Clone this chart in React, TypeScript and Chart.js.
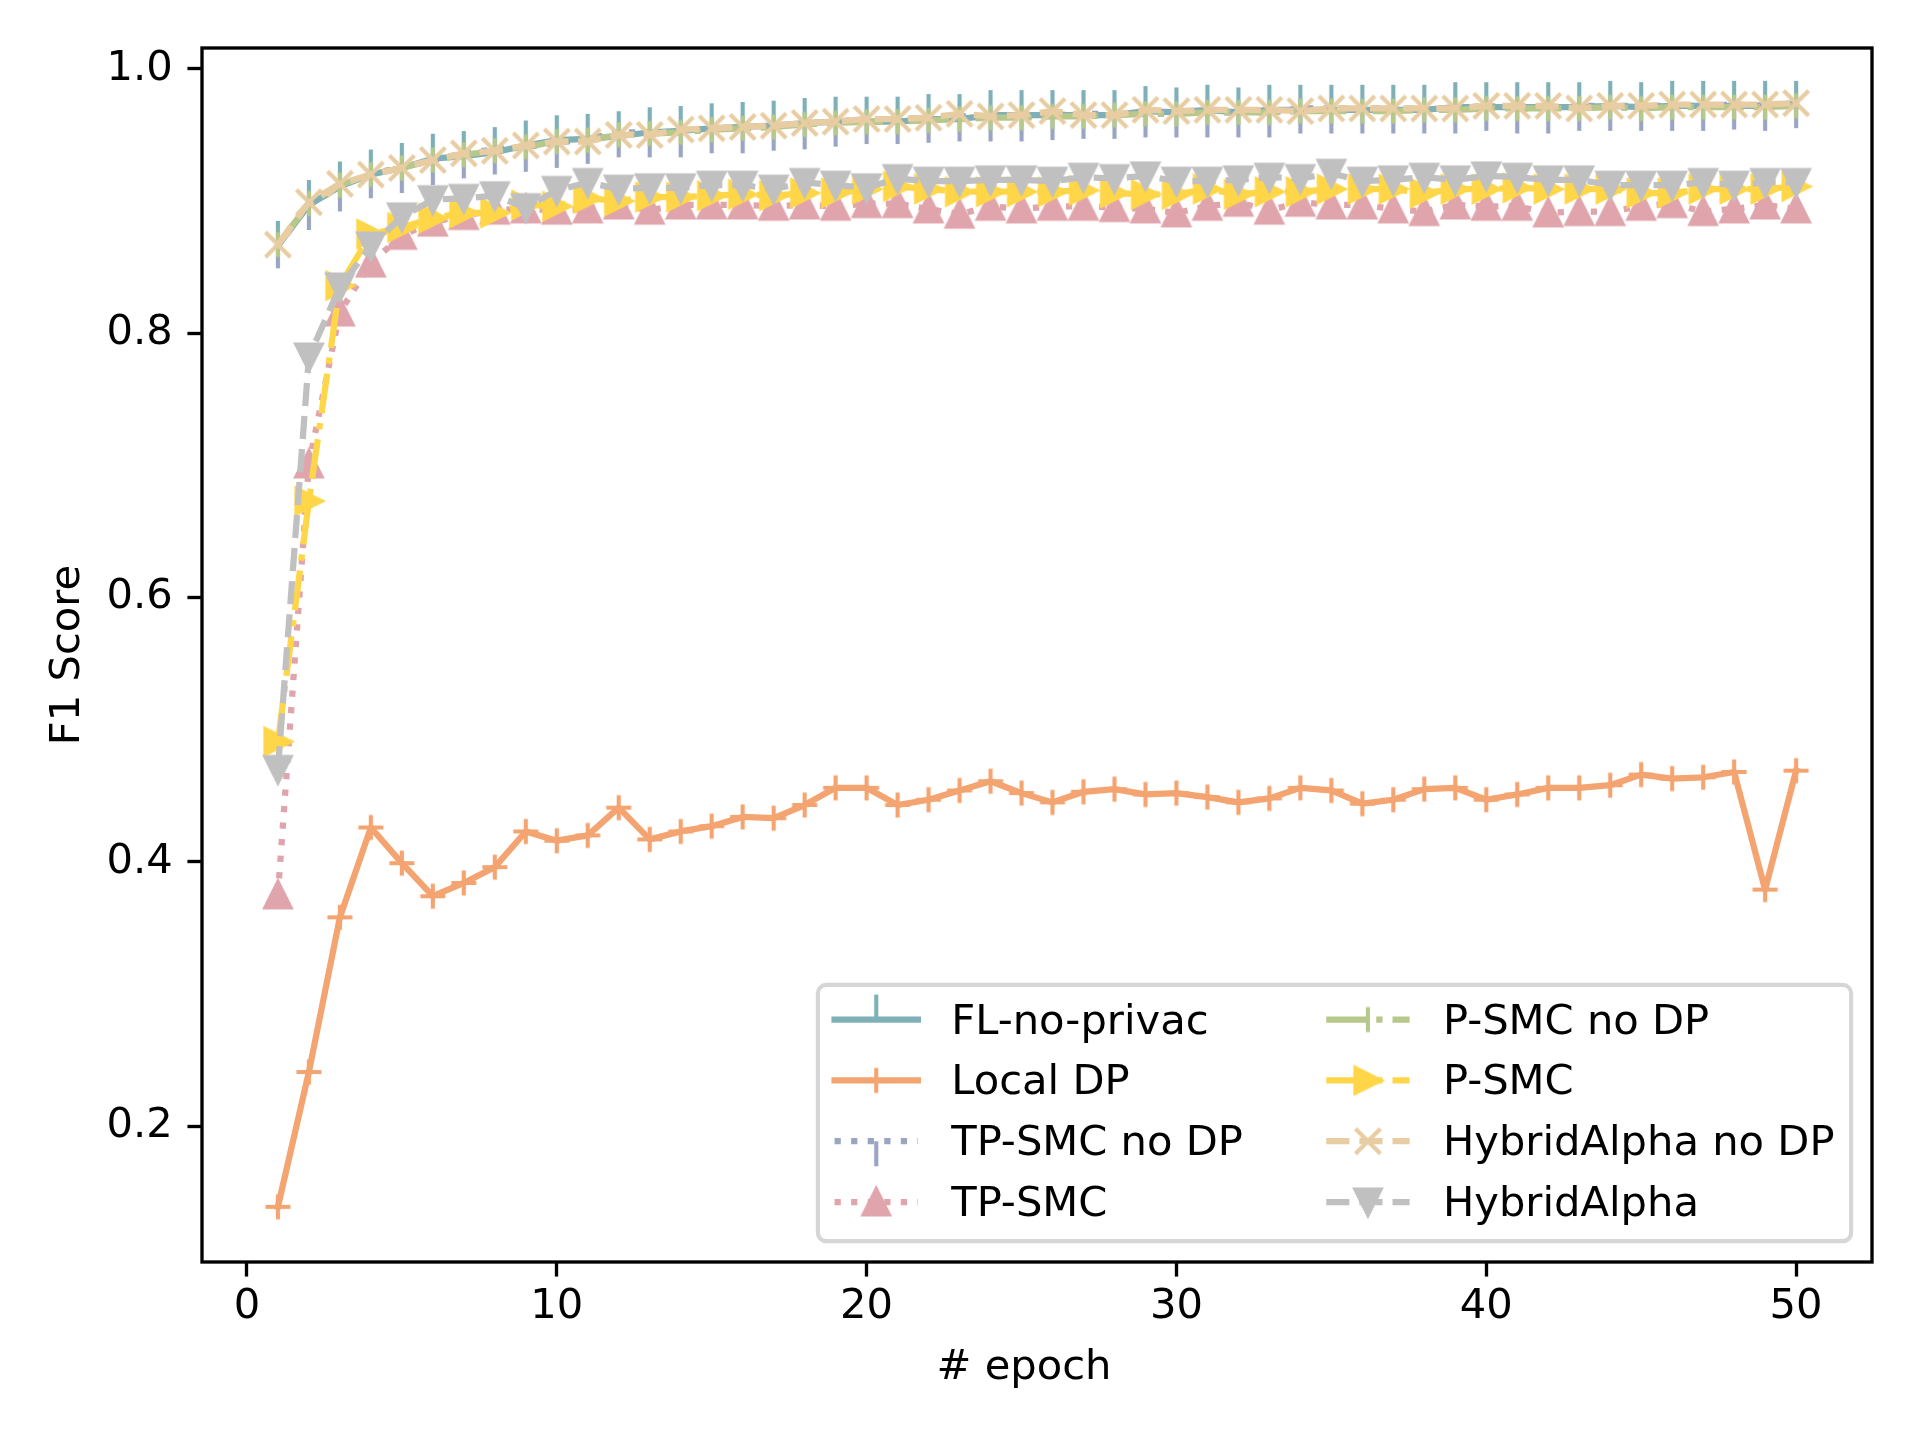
import React, { useEffect, useRef } from "react";
import { Chart, registerables } from "chart.js";

Chart.register(...registerables);

// ---------------- data ----------------
const epochs = [
  1, 2, 3, 4, 5, 6, 7, 8, 9, 10, 11, 12, 13, 14, 15, 16, 17, 18, 19, 20, 21, 22, 23, 24, 25,
  26, 27, 28, 29, 30, 31, 32, 33, 34, 35, 36, 37, 38, 39, 40, 41, 42, 43, 44, 45, 46, 47, 48, 49, 50,
];

const seriesLabels = [
  "FL-no-privac",
  "Local DP",
  "TP-SMC no DP",
  "TP-SMC",
  "P-SMC no DP",
  "P-SMC",
  "HybridAlpha no DP",
  "HybridAlpha",
];

const flNoPrivacy = [
  0.866, 0.897, 0.911, 0.920, 0.925, 0.932, 0.934, 0.937, 0.942, 0.946,
  0.947, 0.949, 0.952, 0.953, 0.955, 0.956, 0.957, 0.959, 0.960, 0.960,
  0.960, 0.962, 0.962, 0.965, 0.965, 0.965, 0.965, 0.965, 0.968, 0.967,
  0.969, 0.967, 0.969, 0.969, 0.969, 0.969, 0.969, 0.969, 0.971, 0.971,
  0.971, 0.971, 0.971, 0.972, 0.971, 0.972, 0.972, 0.972, 0.972, 0.972,
];

const localDP = [
  0.139, 0.241, 0.358, 0.426, 0.399, 0.374, 0.384, 0.396, 0.423, 0.416,
  0.420, 0.441, 0.417, 0.423, 0.427, 0.434, 0.433, 0.443, 0.456, 0.456,
  0.443, 0.447, 0.454, 0.461, 0.452, 0.445, 0.453, 0.455, 0.451, 0.452,
  0.449, 0.445, 0.448, 0.456, 0.454, 0.444, 0.447, 0.455, 0.456, 0.447,
  0.451, 0.456, 0.456, 0.458, 0.466, 0.463, 0.464, 0.468, 0.379, 0.469,
];

const tpSmcNoDP = [
  0.868, 0.897, 0.911, 0.921, 0.925, 0.931, 0.936, 0.939, 0.941, 0.944,
  0.947, 0.952, 0.952, 0.952, 0.955, 0.955, 0.957, 0.958, 0.960, 0.962,
  0.962, 0.963, 0.964, 0.964, 0.964, 0.965, 0.966, 0.966, 0.967, 0.967,
  0.967, 0.967, 0.967, 0.970, 0.970, 0.970, 0.970, 0.970, 0.970, 0.972,
  0.970, 0.970, 0.972, 0.972, 0.972, 0.972, 0.972, 0.973, 0.972, 0.974,
];

const tpSmc = [
  0.375, 0.701, 0.816, 0.853, 0.874, 0.884, 0.889, 0.893, 0.894, 0.893,
  0.894, 0.897, 0.893, 0.897, 0.897, 0.897, 0.896, 0.897, 0.896, 0.898,
  0.898, 0.894, 0.890, 0.896, 0.894, 0.896, 0.896, 0.895, 0.894, 0.891,
  0.896, 0.899, 0.893, 0.899, 0.897, 0.897, 0.894, 0.892, 0.897, 0.896,
  0.896, 0.891, 0.892, 0.892, 0.896, 0.898, 0.892, 0.894, 0.897, 0.894,
];

const pSmcNoDP = [
  0.867, 0.898, 0.912, 0.920, 0.925, 0.931, 0.935, 0.938, 0.941, 0.945,
  0.946, 0.950, 0.951, 0.952, 0.954, 0.955, 0.956, 0.958, 0.959, 0.960,
  0.960, 0.961, 0.962, 0.963, 0.963, 0.964, 0.964, 0.965, 0.966, 0.966,
  0.967, 0.967, 0.967, 0.968, 0.968, 0.968, 0.968, 0.969, 0.969, 0.970,
  0.970, 0.970, 0.970, 0.971, 0.970, 0.971, 0.971, 0.971, 0.971, 0.972,
];

const pSmc = [
  0.491, 0.673, 0.836, 0.875, 0.880, 0.887, 0.891, 0.891, 0.897, 0.896,
  0.902, 0.900, 0.903, 0.903, 0.904, 0.905, 0.904, 0.906, 0.906, 0.909,
  0.911, 0.909, 0.907, 0.907, 0.907, 0.907, 0.908, 0.906, 0.905, 0.905,
  0.909, 0.905, 0.907, 0.907, 0.909, 0.909, 0.909, 0.906, 0.909, 0.909,
  0.910, 0.909, 0.909, 0.909, 0.906, 0.906, 0.909, 0.909, 0.909, 0.911,
];

const hybridNoDP = [
  0.867, 0.899, 0.913, 0.920, 0.925, 0.931, 0.936, 0.938, 0.942, 0.945,
  0.945, 0.950, 0.950, 0.954, 0.955, 0.956, 0.957, 0.959, 0.960, 0.962,
  0.962, 0.963, 0.966, 0.964, 0.965, 0.968, 0.965, 0.965, 0.969, 0.968,
  0.969, 0.969, 0.969, 0.968, 0.970, 0.970, 0.970, 0.970, 0.970, 0.972,
  0.972, 0.972, 0.970, 0.972, 0.972, 0.973, 0.973, 0.973, 0.973, 0.974,
];

const hybrid = [
  0.470, 0.782, 0.835, 0.866, 0.888, 0.901, 0.902, 0.904, 0.895, 0.908,
  0.914, 0.909, 0.910, 0.910, 0.912, 0.912, 0.909, 0.914, 0.912, 0.910,
  0.917, 0.915, 0.915, 0.916, 0.916, 0.915, 0.918, 0.917, 0.919, 0.915,
  0.915, 0.916, 0.918, 0.917, 0.921, 0.915, 0.916, 0.918, 0.916, 0.919,
  0.918, 0.916, 0.916, 0.912, 0.912, 0.912, 0.914, 0.912, 0.914, 0.914,
];

const xTickValues = [0, 10, 20, 30, 40, 50];
const yTickValues = [0.2, 0.4, 0.6, 0.8, 1.0];
const xTitle = "# epoch";
const yTitle = "F1 Score";

// ---------------- styling ----------------
const PT = 300 / 72; // pixels per point at 300 dpi
const FONT_SIZE = 10 * PT;
const FONT_FAMILY = "'DejaVu Sans', 'Liberation Sans', sans-serif";
const LW = 1.5 * PT;

const DOTTED = [1 * LW, 1.65 * LW];
const DASHED = [3.7 * LW, 1.6 * LW];
const DASHDOT = [6.4 * LW, 1.6 * LW, 1 * LW, 1.6 * LW];

type MarkerKind =
  | "tickup"
  | "tickdown"
  | "vline"
  | "plus"
  | "x"
  | "triUp"
  | "triDown"
  | "triRight";

const seriesStyles: { color: string; dash: number[]; marker: MarkerKind }[] = [
  { color: "#7FB0B8", dash: [], marker: "tickup" },
  { color: "#F4A470", dash: [], marker: "plus" },
  { color: "#9AA5C4", dash: DOTTED, marker: "tickdown" },
  { color: "#E0A5AC", dash: DOTTED, marker: "triUp" },
  { color: "#B6C88A", dash: DASHDOT, marker: "vline" },
  { color: "#FFD648", dash: DASHDOT, marker: "triRight" },
  { color: "#E8CCA2", dash: DASHED, marker: "x" },
  { color: "#C0C0C0", dash: DASHED, marker: "triDown" },
];

function makeMarker(kind: MarkerKind, color: string): HTMLCanvasElement {
  const S = 72;
  const c = S / 2;
  const h = 3 * PT; // half of markersize 6pt
  const cv = document.createElement("canvas");
  cv.width = S;
  cv.height = S;
  const g = cv.getContext("2d")!;
  g.strokeStyle = color;
  g.fillStyle = color;
  g.lineWidth = 1 * PT;
  g.lineCap = "butt";
  g.lineJoin = "miter";
  g.beginPath();
  switch (kind) {
    case "tickup":
      g.moveTo(c, c);
      g.lineTo(c, c - 2 * h);
      g.stroke();
      break;
    case "tickdown":
      g.moveTo(c, c);
      g.lineTo(c, c + 2 * h);
      g.stroke();
      break;
    case "vline":
      g.moveTo(c, c - h);
      g.lineTo(c, c + h);
      g.stroke();
      break;
    case "plus":
      g.moveTo(c - h, c);
      g.lineTo(c + h, c);
      g.moveTo(c, c - h);
      g.lineTo(c, c + h);
      g.stroke();
      break;
    case "x":
      g.moveTo(c - h, c - h);
      g.lineTo(c + h, c + h);
      g.moveTo(c - h, c + h);
      g.lineTo(c + h, c - h);
      g.stroke();
      break;
    case "triUp":
      g.moveTo(c, c - h);
      g.lineTo(c - h, c + h);
      g.lineTo(c + h, c + h);
      g.closePath();
      g.fill();
      g.stroke();
      break;
    case "triDown":
      g.moveTo(c, c + h);
      g.lineTo(c - h, c - h);
      g.lineTo(c + h, c - h);
      g.closePath();
      g.fill();
      g.stroke();
      break;
    case "triRight":
      g.moveTo(c + h, c);
      g.lineTo(c - h, c - h);
      g.lineTo(c - h, c + h);
      g.closePath();
      g.fill();
      g.stroke();
      break;
  }
  return cv;
}

// frame around the axes (matplotlib spines)
const framePlugin = {
  id: "mplFrame",
  afterDatasetsDraw(chart: any) {
    const { ctx, chartArea: a } = chart;
    ctx.save();
    ctx.strokeStyle = "#000";
    ctx.lineWidth = 0.8 * PT;
    ctx.lineJoin = "miter";
    ctx.strokeRect(a.left, a.top, a.right - a.left, a.bottom - a.top);
    ctx.restore();
  },
};

// axis titles
const titlePlugin = {
  id: "mplTitles",
  afterDraw(chart: any) {
    const { ctx, chartArea: a } = chart;
    ctx.save();
    ctx.fillStyle = "#000";
    ctx.font = `${FONT_SIZE}px ${FONT_FAMILY}`;
    ctx.textAlign = "center";
    ctx.textBaseline = "alphabetic";
    ctx.fillText(xTitle, (a.left + a.right) / 2 - 13, a.bottom + 117);
    ctx.translate(a.left - 134, (a.top + a.bottom) / 2);
    ctx.rotate(-Math.PI / 2);
    ctx.textBaseline = "middle";
    ctx.fillText(yTitle, 0, 0);
    ctx.restore();
  },
};

// matplotlib-like legend, lower right, 2 columns
const legendPlugin = {
  id: "mplLegend",
  afterDraw(chart: any) {
    const { ctx, chartArea: a } = chart;
    const ds = chart.data.datasets;
    const fs = FONT_SIZE;
    const bp = 0.4 * fs;
    const hl = 2 * fs;
    const htp = 0.8 * fs;
    const cs = 2 * fs;
    const rowStep = 60.8;
    const rowH = 40.5;
    ctx.save();
    ctx.font = `${fs}px ${FONT_FAMILY}`;
    const half = Math.ceil(ds.length / 2);
    let w1 = 0;
    let w2 = 0;
    ds.forEach((d: any, i: number) => {
      const w = ctx.measureText(d.label).width;
      if (i < half) w1 = Math.max(w1, w);
      else w2 = Math.max(w2, w);
    });
    const frameW = 2 * bp + hl + htp + w1 + cs + hl + htp + w2;
    const frameH = 2 * bp + (half - 1) * rowStep + rowH;
    const x1 = a.right - 0.5 * fs;
    const y1 = a.bottom - 0.5 * fs;
    const x0 = x1 - frameW;
    const y0 = y1 - frameH;

    ctx.beginPath();
    ctx.roundRect(x0, y0, frameW, frameH, 0.2 * fs);
    ctx.fillStyle = "rgba(255,255,255,0.8)";
    ctx.fill();
    ctx.lineWidth = 1 * PT;
    ctx.strokeStyle = "rgba(204,204,204,0.8)";
    ctx.stroke();

    ds.forEach((d: any, i: number) => {
      const col = i < half ? 0 : 1;
      const row = i % half;
      const hx = x0 + bp + (col === 0 ? 0 : hl + htp + w1 + cs);
      const hy = y0 + bp + 18 + row * rowStep;
      ctx.save();
      ctx.beginPath();
      ctx.setLineDash(d.borderDash || []);
      ctx.lineDashOffset = 0;
      ctx.strokeStyle = d.borderColor;
      ctx.lineWidth = d.borderWidth;
      ctx.lineCap = d.borderDash && d.borderDash.length ? "butt" : "square";
      ctx.moveTo(hx, hy);
      ctx.lineTo(hx + hl, hy);
      ctx.stroke();
      ctx.restore();
      const m = d.pointStyle as HTMLCanvasElement;
      ctx.drawImage(m, hx + hl / 2 - m.width / 2, hy - m.height / 2);
      ctx.fillStyle = "#000";
      ctx.textAlign = "left";
      ctx.textBaseline = "alphabetic";
      ctx.fillText(d.label, hx + hl + htp, hy + 14);
    });
    ctx.restore();
  },
};

export default function App() {
  const canvasRef = useRef<HTMLCanvasElement | null>(null);

  useEffect(() => {
    if (!canvasRef.current) return;
    const allSeries = [flNoPrivacy, localDP, tpSmcNoDP, tpSmc, pSmcNoDP, pSmc, hybridNoDP, hybrid];

    let yMinD = Infinity;
    let yMaxD = -Infinity;
    allSeries.forEach((s) =>
      s.forEach((v) => {
        yMinD = Math.min(yMinD, v);
        yMaxD = Math.max(yMaxD, v);
      })
    );
    const yPad = 0.05 * (yMaxD - yMinD);
    const xMinD = Math.min(...epochs);
    const xMaxD = Math.max(...epochs);
    const xPad = 0.05 * (xMaxD - xMinD);

    const datasets = allSeries.map((s, i) => {
      const st = seriesStyles[i];
      return {
        label: seriesLabels[i],
        data: s.map((v, j) => ({ x: epochs[j], y: v })),
        borderColor: st.color,
        backgroundColor: st.color,
        borderWidth: LW,
        borderDash: st.dash,
        borderCapStyle: st.dash.length ? "butt" : "square",
        borderJoinStyle: "round",
        tension: 0,
        fill: false,
        pointStyle: makeMarker(st.marker, st.color),
        pointRadius: 12,
        pointHoverRadius: 12,
        order: allSeries.length - 1 - i,
        clip: false,
      };
    });

    const tickFont = { family: FONT_FAMILY, size: FONT_SIZE };

    const chart = new Chart(canvasRef.current, {
      type: "line",
      data: { datasets } as any,
      options: {
        animation: false,
        responsive: false,
        devicePixelRatio: 1,
        events: [],
        layout: { padding: { top: 48, right: 49, left: 0, bottom: 0 } },
        plugins: {
          legend: { display: false },
          tooltip: { enabled: false },
          title: { display: false },
        },
        scales: {
          x: {
            type: "linear",
            min: xMinD - xPad,
            max: xMaxD + xPad,
            afterBuildTicks: (scale: any) => {
              scale.ticks = xTickValues.map((v) => ({ value: v }));
            },
            afterFit: (scale: any) => {
              scale.height = 176;
            },
            ticks: {
              font: tickFont,
              color: "#000",
              padding: 6,
              maxRotation: 0,
              autoSkip: false,
              callback: (v: any) => String(v),
            },
            grid: {
              display: true,
              drawOnChartArea: false,
              drawTicks: true,
              tickLength: 3.5 * PT,
              tickWidth: 0.8 * PT,
              tickColor: "#000",
            },
            border: { display: false },
          },
          y: {
            type: "linear",
            min: yMinD - yPad,
            max: yMaxD + yPad,
            afterBuildTicks: (scale: any) => {
              scale.ticks = yTickValues.map((v) => ({ value: v }));
            },
            afterFit: (scale: any) => {
              scale.width = 202;
            },
            ticks: {
              font: tickFont,
              color: "#000",
              padding: 3.5 * PT,
              autoSkip: false,
              callback: (v: any) => Number(v).toFixed(1),
            },
            grid: {
              display: true,
              drawOnChartArea: false,
              drawTicks: true,
              tickLength: 3.5 * PT,
              tickWidth: 0.8 * PT,
              tickColor: "#000",
            },
            border: { display: false },
          },
        },
      } as any,
      plugins: [framePlugin, titlePlugin, legendPlugin],
    });

    return () => {
      chart.destroy();
    };
  }, []);

  return (
    <div
      style={{
        position: "fixed",
        left: 0,
        top: 0,
        width: 1921,
        height: 1438,
        background: "#fff",
      }}
    >
      <canvas ref={canvasRef} width={1921} height={1438} style={{ width: 1921, height: 1438, display: "block" }} />
    </div>
  );
}
